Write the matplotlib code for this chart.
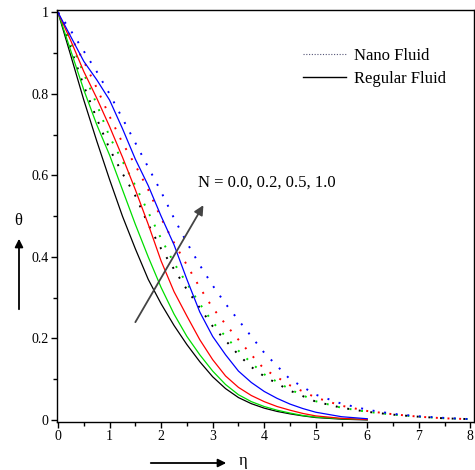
import matplotlib
matplotlib.use("Agg")
import matplotlib.pyplot as plt
from matplotlib.lines import Line2D
from matplotlib.ticker import MultipleLocator
import numpy as np

# ---- data ----
eta_regular = [0, 0.25, 0.5, 0.75, 1.0, 1.25, 1.5, 1.75, 2.0, 2.25, 2.5, 2.75, 3.0,
               3.25, 3.5, 3.75, 4.0, 4.25, 4.5, 4.75, 5.0, 5.5, 6.0]
theta_reg_N00 = [1.0, 0.893, 0.785, 0.685, 0.59, 0.50, 0.42, 0.345, 0.285, 0.232, 0.185, 0.143, 0.106,
                 0.077, 0.055, 0.040, 0.029, 0.021, 0.015, 0.010, 0.006, 0.002, 0.0]
theta_reg_N02 = [1.0, 0.905, 0.81, 0.725, 0.65, 0.565, 0.48, 0.40, 0.325, 0.26, 0.205, 0.16, 0.12,
                 0.087, 0.062, 0.045, 0.033, 0.024, 0.017, 0.011, 0.007, 0.003, 0.001]
theta_reg_N05 = [1.0, 0.93, 0.855, 0.79, 0.72, 0.645, 0.565, 0.48, 0.39, 0.315, 0.255, 0.197, 0.148,
                 0.108, 0.08, 0.06, 0.045, 0.033, 0.024, 0.016, 0.010, 0.004, 0.001]
theta_reg_N10 = [1.0, 0.94, 0.88, 0.835, 0.785, 0.715, 0.64, 0.575, 0.50, 0.43, 0.345, 0.265, 0.205,
                 0.16, 0.12, 0.092, 0.07, 0.053, 0.039, 0.028, 0.019, 0.008, 0.003]

eta_nano = [0, 0.25, 0.5, 0.75, 1.0, 1.25, 1.5, 1.75, 2.0, 2.25, 2.5, 2.75, 3.0,
            3.25, 3.5, 3.75, 4.0, 4.5, 5.0, 5.5, 6.0, 6.5, 7.0, 7.5, 8.0]
theta_nano_N00 = [1.0, 0.91, 0.82, 0.74, 0.665, 0.605, 0.55, 0.48, 0.42, 0.37, 0.32, 0.275, 0.23,
                  0.195, 0.16, 0.13, 0.107, 0.072, 0.045, 0.03, 0.02, 0.013, 0.008, 0.004, 0.002]
theta_nano_N02 = [1.0, 0.925, 0.85, 0.775, 0.695, 0.635, 0.575, 0.51, 0.445, 0.385, 0.335, 0.285, 0.24,
                  0.205, 0.17, 0.14, 0.112, 0.075, 0.046, 0.03, 0.02, 0.013, 0.008, 0.004, 0.002]
theta_nano_N05 = [1.0, 0.94, 0.88, 0.815, 0.745, 0.68, 0.625, 0.565, 0.495, 0.435, 0.38, 0.325, 0.275,
                  0.235, 0.197, 0.16, 0.125, 0.085, 0.055, 0.035, 0.022, 0.014, 0.008, 0.004, 0.002]
theta_nano_N10 = [1.0, 0.955, 0.905, 0.855, 0.80, 0.74, 0.68, 0.62, 0.56, 0.495, 0.435, 0.38, 0.33,
                  0.285, 0.245, 0.205, 0.165, 0.10, 0.062, 0.04, 0.025, 0.015, 0.009, 0.005, 0.002]

N_values = ["0.0", "0.2", "0.5", "1.0"]
series_colors = ["#000000", "#00dd00", "#ff0000", "#0000ff"]
legend_labels = ["Nano Fluid", "Regular Fluid"]
x_ticks = [0, 1, 2, 3, 4, 5, 6, 7, 8]
y_ticks = [0, 0.2, 0.4, 0.6, 0.8, 1]
y_tick_labels = ["0", "0.2", "0.4", "0.6", "0.8", "1"]

# ---- figure ----
plt.rcParams['font.family'] = ['Liberation Serif', 'DejaVu Serif']
fig = plt.figure(figsize=(4.75, 4.70), dpi=100)
ax = fig.add_axes([57 / 475, 48.4 / 470, 417 / 475, 411.6 / 470])

regs = [theta_reg_N00, theta_reg_N02, theta_reg_N05, theta_reg_N10]
nanos = [theta_nano_N00, theta_nano_N02, theta_nano_N05, theta_nano_N10]
for reg, nano, c in zip(regs, nanos, series_colors):
    ax.plot(eta_regular, reg, color=c, lw=0.9, solid_joinstyle='round')
    ax.plot(eta_nano, nano, color=c, lw=1.4, linestyle=(0, (1, 5)))

ax.set_xlim(-0.02, 8.07)
ax.set_ylim(-0.004, 1.006)
ax.set_xticks(x_ticks)
ax.set_yticks(y_ticks)
ax.set_yticklabels(y_tick_labels)
ax.xaxis.set_minor_locator(MultipleLocator(0.5))
ax.yaxis.set_minor_locator(MultipleLocator(0.1))
ax.tick_params(which='major', direction='out', length=4, width=1, labelsize=10, pad=2)
ax.tick_params(which='minor', direction='out', length=3, width=1)
for s in ax.spines.values():
    s.set_linewidth(1.0)

# legend
handles = [Line2D([], [], color='#555577', lw=0.8, linestyle=(0, (1, 1.5))),
           Line2D([], [], color='black', lw=1.0)]
ax.legend(handles, legend_labels, loc='upper left', bbox_to_anchor=(0.573, 0.925),
          frameon=False, fontsize=12, handlelength=2.6, handletextpad=0.5,
          labelspacing=0.45, borderaxespad=0)

# annotation arrow & label
ax.annotate("", xy=(2.82, 0.527), xytext=(1.5, 0.24),
            arrowprops=dict(arrowstyle='-|>', color='#444444', lw=1.3,
                            mutation_scale=14, shrinkA=0, shrinkB=0))
ax.text(2.72, 0.583, "N = " + ", ".join(N_values), fontsize=12, va='center', ha='left')

# axis labels with arrows (figure coordinates)
fig.text(18 / 475, 1 - 221 / 470, "θ", fontsize=12, ha='center', va='center')
fig.add_artist(matplotlib.patches.FancyArrowPatch(
    (19 / 475, 1 - 312 / 470), (19 / 475, 1 - 236 / 470), transform=fig.transFigure,
    arrowstyle='-|>', mutation_scale=12, color='black', lw=1.3))
fig.text(243 / 475, 1 - 461 / 470, "η", fontsize=12, ha='center', va='center')
fig.add_artist(matplotlib.patches.FancyArrowPatch(
    (148 / 475, 1 - 463 / 470), (229 / 475, 1 - 463 / 470), transform=fig.transFigure,
    arrowstyle='-|>', mutation_scale=12, color='black', lw=1.3))

fig.savefig("out.png", dpi=100)
